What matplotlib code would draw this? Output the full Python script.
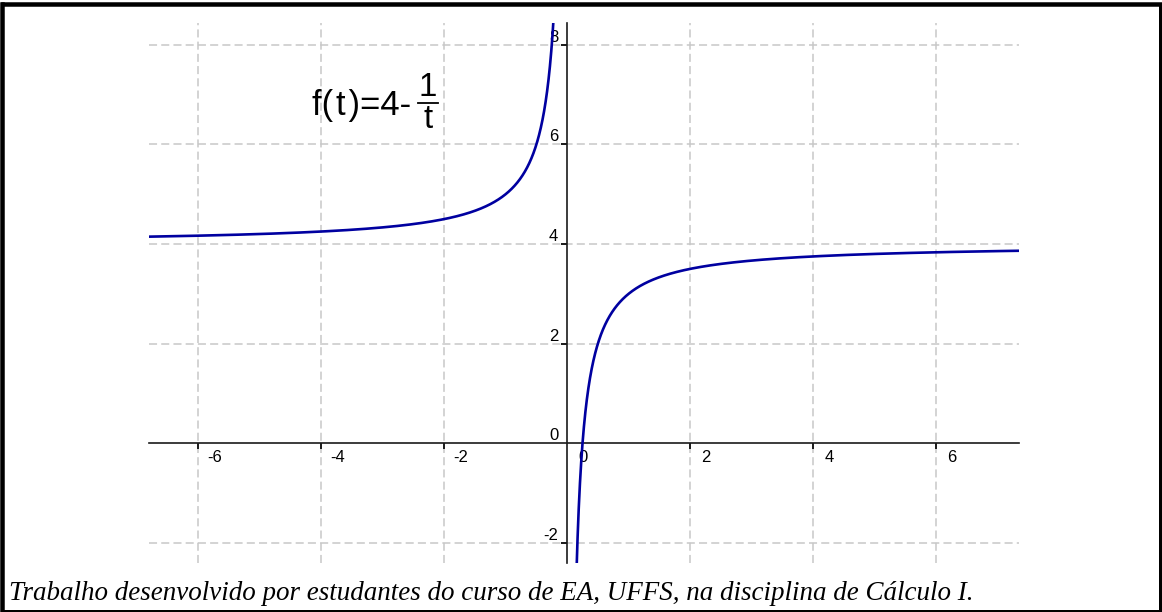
import numpy as np
import matplotlib
matplotlib.use("Agg")
import matplotlib.pyplot as plt
from matplotlib.lines import Line2D

# ---- data ----
A_CONST = 4.0          # f(t) = A - B/t
B_CONST = 1.0
x_ticks = [-6, -4, -2, 2, 4, 6]
y_ticks = [-2, 2, 4, 6, 8]
x_tick_labels = ["-6", "-4", "-2", "2", "4", "6"]
y_tick_labels = ["-2", "2", "4", "6", "8"]
x_limits = (-6.81, 7.35)
y_limits = (-2.41, 8.43)
formula_main = "f(\u200at\u200a)=4-"
formula_num = "1"
formula_den = "t"
caption = "Trabalho desenvolvido por estudantes do curso de EA, UFFS, na disciplina de Cálculo I."

t_left = np.linspace(x_limits[0], -0.01, 4000)
t_right = np.linspace(0.01, x_limits[1], 4000)
f_left = A_CONST - B_CONST / t_left
f_right = A_CONST - B_CONST / t_right

# ---- figure ----
plt.rcParams['lines.scale_dashes'] = False
W, H = 1162, 612
fig = plt.figure(figsize=(W / 100, H / 100), dpi=100)
fig.patch.set_facecolor("white")

def fx(px):
    return px / W

def fy(py):
    return 1 - py / H

ax_l, ax_r, ax_t, ax_b = 148.5, 1019.0, 23.3, 563.3
ax = fig.add_axes([fx(ax_l), fy(ax_b), (ax_r - ax_l) / W, (ax_b - ax_t) / H])
ax.set_xlim(*x_limits)
ax.set_ylim(*y_limits)
ax.set_facecolor("none")

for s in ["top", "right"]:
    ax.spines[s].set_visible(False)
ax.spines["left"].set_position(("data", 0))
ax.spines["bottom"].set_position(("data", 0))
for s in ["left", "bottom"]:
    ax.spines[s].set_color("#1a1a1a")
    ax.spines[s].set_linewidth(1.2)
    ax.spines[s].set_zorder(3)

ax.set_xticks(x_ticks)
ax.set_yticks(y_ticks)
ax.tick_params(axis="both", direction="out", length=4.3, width=1.4,
               color="#1a1a1a", labelbottom=False, labelleft=False)
ax.grid(True, color="#c8c8c8", linewidth=1.1, linestyle=(0, (5.8, 3.0)), zorder=0)
ax.set_axisbelow(True)

curve_color = "#0000a0"
ax.plot(t_left, f_left, color=curve_color, linewidth=1.9, zorder=4, solid_capstyle="butt")
ax.plot(t_right, f_right, color=curve_color, linewidth=1.9, zorder=4, solid_capstyle="butt")

lab_font = dict(family=["Liberation Sans", "DejaVu Sans"], fontsize=12, color="black")
for xv, lab in zip(x_ticks + [0], x_tick_labels + ["0"]):
    ax.annotate(lab, xy=(xv, 0), xytext=(16, -14.5), textcoords="offset pixels",
                ha="center", va="center", **lab_font)
for yv, lab in zip(y_ticks + [0], y_tick_labels + ["0"]):
    ax.annotate(lab, xy=(0, yv), xytext=(-9, 3), textcoords="offset pixels",
                ha="right", va="baseline", **lab_font)

# formula
ffont_family = ["Liberation Sans", "DejaVu Sans"]
fm = fig.text(fx(311.5), fy(115), formula_main, ha="left", va="baseline",
              family=ffont_family, fontsize=22, color="black")
fig.canvas.draw()
r = fig.canvas.get_renderer()
fw = fm.get_window_extent(r).width
fsz = 22 * (411 - 311.5) / fw
fm.set_fontsize(fsz)
fig.text(fx(428), fy(96), formula_num, ha="center", va="baseline",
         family=ffont_family, fontsize=fsz * 0.95, color="black")
fig.text(fx(428), fy(128.3), formula_den, ha="center", va="baseline",
         family=ffont_family, fontsize=fsz * 0.95, color="black")
fig.add_artist(Line2D([fx(418), fx(438)], [fy(103), fy(103)], transform=fig.transFigure,
                      color="black", linewidth=1.3))

# caption
cap = fig.text(fx(9), fy(600.5), caption, ha="left", va="baseline",
               family=["Liberation Serif", "DejaVu Serif"], style="italic",
               fontsize=16, color="black")
w = cap.get_window_extent(r).width
target = 975 - 9
cap.set_fontsize(16 * target / w)

# border
def bline(x0, y0, x1, y1, lw_px):
    fig.add_artist(Line2D([fx(x0), fx(x1)], [fy(y0), fy(y1)], transform=fig.transFigure,
                          color="black", linewidth=lw_px * 0.72, solid_capstyle="projecting"))

bline(3, 4, 1160, 4, 4.5)
bline(2.5, 4, 2.5, 610.5, 4.5)
bline(1160, 4, 1160, 610.5, 3)
bline(2.5, 610.5, 1160, 610.5, 3)

fig.savefig("out.png", dpi=100, facecolor="white")
